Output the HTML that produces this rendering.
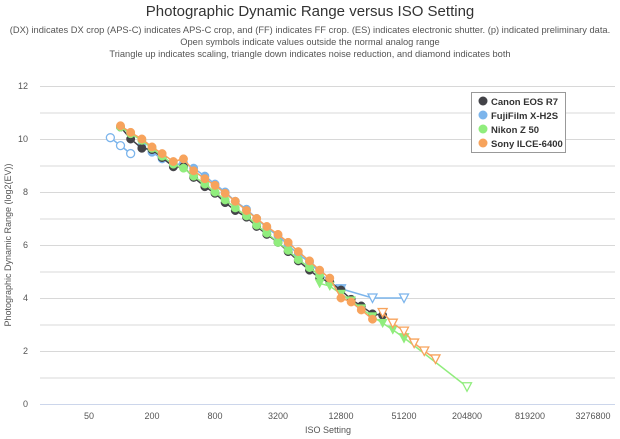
<!DOCTYPE html>
<html><head><meta charset="utf-8"><style>
body{margin:0;background:#fff;font-family:"Liberation Sans",sans-serif}
svg{display:block}
</style></head><body>
<svg id="c" width="620" height="439" xmlns="http://www.w3.org/2000/svg">
<text x="310" y="16" text-anchor="middle" font-size="15" fill="#333">Photographic Dynamic Range versus ISO Setting</text>
<g font-size="9.3" fill="#555" text-anchor="middle">
<text x="310" y="33">(DX) indicates DX crop (APS-C) indicates APS-C crop, and (FF) indicates FF crop. (ES) indicates electronic shutter. (p) indicated preliminary data.</text>
<text x="310" y="45">Open symbols indicate values outside the normal analog range</text>
<text x="310" y="57">Triangle up indicates scaling, triangle down indicates noise reduction, and diamond indicates both</text>
</g>
<g id="grid"></g><g id="axes"></g><g id="series"></g>
<text transform="translate(11,245) rotate(-90)" text-anchor="middle" font-size="9" fill="#555">Photographic Dynamic Range (log2(EV))</text>
<text x="328" y="433" text-anchor="middle" font-size="9" fill="#555">ISO Setting</text>
<g>
<rect x="471.5" y="92.5" width="94" height="60" fill="#fff" stroke="#999"/>
<g font-size="9.5" font-weight="bold" fill="#333">
<g><circle cx="483" cy="101" r="4.5" fill="#434348"/><text x="491" y="105">Canon EOS R7</text></g>
<g><circle cx="483" cy="115" r="4.5" fill="#7cb5ec"/><text x="491" y="119">FujiFilm X-H2S</text></g>
<g><circle cx="483" cy="129" r="4.5" fill="#90ed7d"/><text x="491" y="133">Nikon Z 50</text></g>
<g><circle cx="483" cy="143" r="4.5" fill="#f7a35c"/><text x="491" y="147">Sony ILCE-6400</text></g>
</g></g>
</svg>
<script>
const xTicks=[50,200,800,3200,12800,51200,204800,819200,3276800];
const yTicks=[0,2,4,6,8,10,12];
const thirds=[100,125,160,200,250,320,400,500,640,800,1000,1250,1600,2000,2500,3200,4000,5000,6400,8000,10000,12800,16000,20000,25600,32000,40000,51200,64000,80000,102400];
const canonVals=[10.45,10.0,9.65,9.6,9.3,8.95,8.95,8.55,8.2,7.95,7.6,7.3,7.05,6.7,6.4,6.1,5.75,5.4,5.05,4.75,4.6,4.3,3.95,3.7,3.4,3.35];
const fujiOpenIso=[80,100,125];
const fujiOpenVals=[10.05,9.75,9.45];
const fujiVals=[9.75,9.5,9.25,9.0,9.1,8.9,8.6,8.3,8.0,7.65,7.35,7.0,6.65,6.35,6.0,5.65,5.35,4.95,4.6,4.35];
const fujiNrIso=[12800,25600,51200];
const fujiNrVals=[4.35,4.0,4.0];
const nikonVals=[10.45,10.2,9.95,9.65,9.35,9.05,8.9,8.6,8.3,8.0,7.7,7.4,7.1,6.75,6.45,6.1,5.8,5.45,5.15,4.85];
const nikonTriVals=[4.55,4.45,4.15,3.9,3.6,3.3,3.05,2.8,2.5];
const nikonOpenIso=[51200,204800];
const nikonOpenVals=[2.5,0.65];
const sonyVals=[10.5,10.25,10.0,9.7,9.45,9.15,9.25,8.8,8.5,8.25,7.95,7.65,7.3,7.0,6.7,6.4,6.1,5.75,5.4,5.05,4.75,4.0,3.85,3.55,3.2];
const sonyOpenVals=[3.45,3.05,2.75,2.3,2.0,1.7];

const NS="http://www.w3.org/2000/svg";
const X0=40,X1=615,Y0=404,Y1=86;
const xs=v=>89+(Math.log2(v)-Math.log2(50))*31.5;
const ys=v=>Y0-(v/12)*(Y0-Y1);
function mk(t,a,p){const e=document.createElementNS(NS,t);for(const k in a)e.setAttribute(k,a[k]);p.appendChild(e);return e;}
const grid=document.getElementById('grid'),axes=document.getElementById('axes'),ser=document.getElementById('series');
for(let v=0;v<=12;v++){const l=mk('line',{x1:X0,x2:X1,y1:ys(v)+0.5,y2:ys(v)+0.5,stroke:'#d8d8d8','stroke-width':1},grid);

}
const base=mk('line',{x1:X0,x2:X1,y1:Y0+0.5,y2:Y0+0.5,stroke:'#ccd6eb','stroke-width':1},axes);


yTicks.forEach(v=>{const t=mk('text',{x:28,y:ys(v)+3,'text-anchor':'end','font-size':9,fill:'#555'},axes);t.textContent=v;

});
xTicks.forEach(v=>{const t=mk('text',{x:xs(v),y:419,'text-anchor':'middle','font-size':9,fill:'#555'},axes);t.textContent=v;

});
function series(name,color,isos,vals,shape,open,line=true){
  const g=mk('g',{},ser);
  
  
  const pts=isos.map((iso,i)=>[xs(iso),ys(vals[i])]);
  if(line){const pl=mk('polyline',{points:pts.map(p=>p.join(',')).join(' '),fill:'none',stroke:color,'stroke-width':1.5},g);
  
  }
  pts.forEach(([x,y])=>{let m;
    if(shape==='c')m=mk('circle',{cx:x,cy:y,r:open?4:4.2},g);
    else m=mk('path',{d:`M${x-4.5},${y-4}L${x+4.5},${y-4}L${x},${y+4.5}Z`},g);
    m.setAttribute('fill',open?'#fff':color);m.setAttribute('stroke',color);m.setAttribute('stroke-width',open?1.3:0.5);
    
    });
}
series('fuji-open','#7cb5ec',fujiOpenIso,fujiOpenVals,'c',true);
series('fuji-nr','#7cb5ec',fujiNrIso,fujiNrVals,'t',true);
series('fuji','#7cb5ec',thirds.slice(2,2+fujiVals.length),fujiVals,'c',false);
series('canon','#434348',thirds.slice(0,canonVals.length),canonVals,'c',false);
series('nikon-open','#90ed7d',nikonOpenIso,nikonOpenVals,'t',true);
series('nikon','#90ed7d',thirds.slice(0,nikonVals.length),nikonVals,'c',false);
series('nikon-nr','#90ed7d',thirds.slice(19,19+nikonTriVals.length),nikonTriVals,'t',false);
series('sony-open','#f7a35c',thirds.slice(25,25+sonyOpenVals.length),sonyOpenVals,'t',true);
series('sony','#f7a35c',thirds.slice(0,sonyVals.length),sonyVals,'c',false);
</script>
</body></html>
